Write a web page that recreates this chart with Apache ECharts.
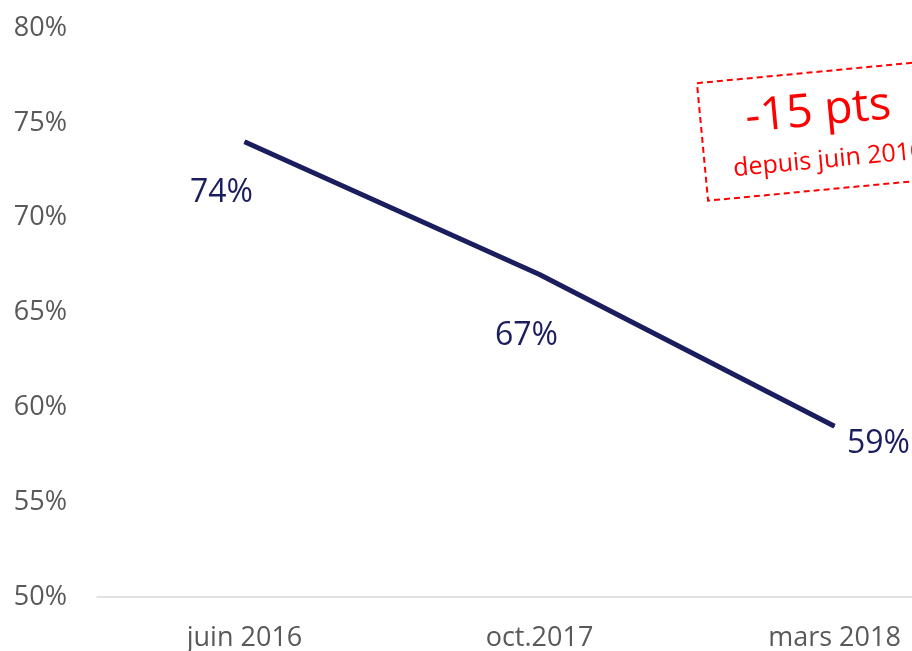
<!DOCTYPE html>
<html>
<head>
<meta charset="utf-8">
<script src="https://cdn.jsdelivr.net/npm/echarts@6/dist/echarts.min.js"></script>
<style>
  html, body { margin: 0; padding: 0; background: #fff; }
  #chart { width: 912px; height: 651px; }
</style>
</head>
<body>
<div id="chart"></div>
<script>
// données
var categories = ['juin 2016', 'oct.2017', 'mars 2018']
var values = [74, 67, 59]
var yTicks = [50, 55, 60, 65, 70, 75, 80]

// position des étiquettes (comme dans l'original)
var labelOffsets = [[-23, 51], [-13, 61], [44, 18]]

var chart = echarts.init(document.getElementById('chart'))
var font = '"Open Sans", "Noto Sans", sans-serif'

var option = {
  animation: false,
  grid: {
    left: 97,
    top: 28,
    bottom: 54,
    width: 885,
    containLabel: false,
    outerBoundsMode: 'none'
  },
  xAxis: {
    type: 'category',
    data: categories,
    boundaryGap: true,
    axisTick: { show: false },
    axisLine: { lineStyle: { color: '#D9D9D9', width: 1.5 } },
    axisLabel: { color: '#595959', fontSize: 27, fontFamily: font, margin: 28 }
  },
  yAxis: {
    type: 'value',
    min: yTicks[0],
    max: yTicks[yTicks.length - 1],
    interval: 5,
    axisLine: { show: false },
    axisTick: { show: false },
    splitLine: { show: false },
    axisLabel: {
      color: '#595959',
      fontSize: 27,
      fontFamily: font,
      margin: 30,
      formatter: function (v) { return v + '%' }
    }
  },
  series: [
    {
      type: 'line',
      symbol: 'circle',
      symbolSize: 1,
      showSymbol: true,
      itemStyle: { color: '#1B1E5E' },
      lineStyle: { color: '#1B1E5E', width: 5 },
      label: {
        show: true,
        position: 'inside',
        color: '#1B1E5E',
        fontSize: 32,
        fontFamily: font,
        formatter: '{c}%'
      },
      data: values.map(function (v, i) {
        return {
          value: v,
          label: { offset: labelOffsets[i] }
        }
      })
    }
  ],
  graphic: [
    {
      type: 'group',
      x: 818,
      y: 131,
      rotation: 5.4 * Math.PI / 180,
      children: [
        {
          type: 'rect',
          shape: { x: -116, y: -59, width: 232, height: 118 },
          style: { fill: 'none', stroke: '#FF0000', lineWidth: 2, lineDash: [6, 4] }
        },
        {
          type: 'text',
          x: 2,
          y: -19,
          style: {
            text: '-15 pts',
            fill: '#FF0000',
            fontSize: 46,
            fontFamily: font,
            align: 'center',
            verticalAlign: 'middle'
          }
        },
        {
          type: 'text',
          x: 8,
          y: 30,
          style: {
            text: 'depuis juin 2016',
            fill: '#FF0000',
            fontSize: 25,
            fontFamily: font,
            align: 'center',
            verticalAlign: 'middle'
          }
        }
      ]
    }
  ]
}
chart.setOption(option)
</script>
</body>
</html>
